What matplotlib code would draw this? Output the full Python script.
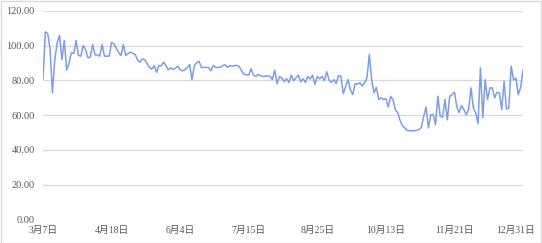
import matplotlib
matplotlib.use("Agg")
import matplotlib.pyplot as plt
from matplotlib.patches import Rectangle
from matplotlib.transforms import ScaledTranslation

tick_labels = ["3月7日", "4月18日", "6月4日", "7月15日", "8月25日", "10月13日", "11月21日", "12月31日"]
y_ticks = [0, 20, 40, 60, 80, 100, 120]

seg1 = [80.9, 108, 107, 97.9, 72.8, 92, 101.7, 106, 92, 103,
        86, 90, 96, 95.5, 103, 94.4, 94, 100, 97.8, 93,
        93.5, 100.7, 94.7, 94.7, 94, 100.7, 94, 94, 94, 102,
        101, 98.6, 96, 94.4, 100.7, 94.4, 95.5, 96.3, 95.5, 95,
        91.7, 90.5, 92.4, 92, 89.8, 87.5, 86.5, 88.4, 84.7, 88.6,
        88.4, 90.5, 88.6, 86]
seg2 = [87.3, 86.3, 87, 88.2, 86.1, 85.5, 86.3, 87.3, 89.2, 80.5,
        88.4, 90.3, 91, 87.5, 87.5, 87.5, 87.5, 85.6, 88.6, 87.5,
        87.5, 87.5, 88.6, 89, 87.5, 88.6, 88.2, 88.6, 88.6, 87.9,
        85.5, 83.6, 83.3, 83, 86.7, 83.1, 82.3, 83.5, 82.7, 82.3,
        82.3, 82.7, 82.3, 80.5, 85.9, 78.2, 82.3, 81.5, 79.2, 81,
        78.8, 83.1, 79.8, 81.5, 83.1, 79.2, 81, 78.8, 82.3, 80.8,
        83.1, 77.6, 82.3, 81, 82.3, 80, 85.1, 80.1, 78.9, 80.5,
        78.2, 82.8, 82.3, 72.4, 76.6, 80.5]
seg3 = [74.7, 71.8, 78.2, 77.8, 78.6, 76.9, 78.6, 81.5, 95, 80.4,
        72.8, 76, 69, 70, 69, 69.5, 64.7, 70.8, 69, 63.2,
        61.4, 57, 54, 52.7, 51.2, 51, 51, 51, 51.2, 51.6,
        53, 59.3, 64.7, 52.6, 60.3, 60.3, 54.5, 70.9, 59.5, 58.8,
        69, 57.3, 70.9, 71.8, 73.2, 65, 61.4, 65.5, 63.2, 60.3,
        63.2, 75.7, 64.1, 61.4, 55.1, 87.3, 58.4, 80.5, 69, 75.7,
        75.7, 70, 73.2, 72.8, 63.2, 79.5, 63.6, 64.1, 88.2, 80.4,
        81.3, 71.8, 76, 85.9]
values = seg1 + seg2 + seg3

plt.rcParams['font.family'] = ['Liberation Serif', 'Noto Sans CJK SC', 'DejaVu Sans']

fig = plt.figure(figsize=(5.42, 2.43), dpi=100)
ax = fig.add_axes([43/542, 1-219.3/243, 480/542, 208.3/243])

n = len(values)
xs = list(range(n))
ax.plot(xs, values, color='#7C9EE2', linewidth=1.1)

step = (n - 1) / (len(tick_labels) - 1)
ax.set_xticks([i * step for i in range(len(tick_labels))])
ax.set_xticklabels(tick_labels)
ax.set_yticks(y_ticks)
ax.set_yticklabels([f"{v:.2f}" for v in y_ticks])
ax.set_xlim(0, n - 1)
ax.set_ylim(0, 120)
ax.grid(axis='y', color='#d9d9d9', linewidth=0.9)
ax.set_axisbelow(True)
for s in ax.spines.values():
    s.set_visible(False)
ax.tick_params(axis='x', length=0, labelsize=7, colors='#595959', pad=5)
ax.tick_params(axis='y', length=0, labelsize=7.5, colors='#595959', pad=6)

last = ax.get_xticklabels()[-1]
last.set_transform(last.get_transform() + ScaledTranslation(-7/100, 0, fig.dpi_scale_trans))

fig.patches.append(Rectangle((0.001, 0.002), 0.997, 0.995, transform=fig.transFigure,
                             fill=False, edgecolor='#d9d9d9', linewidth=1.0))

fig.savefig("out.png", dpi=100)
